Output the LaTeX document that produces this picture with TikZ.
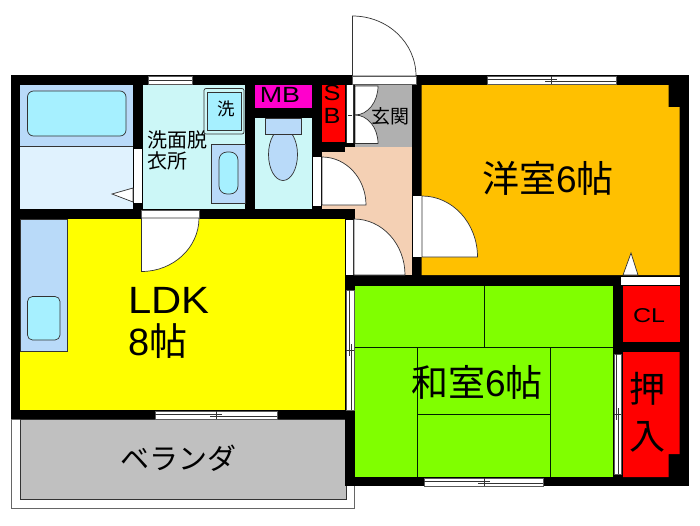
\documentclass[tikz,border=0pt]{standalone}
\usepackage{graphicx}
\usepackage{fontspec}
\setmainfont{Liberation Sans}
\newfontfamily\jp{Noto Sans CJK JP}
\definecolor{lblue}{HTML}{B9DAF9}
\definecolor{pale}{HTML}{E0F2FE}
\definecolor{aqua}{HTML}{A6F0FF}
\definecolor{mint}{HTML}{CCF7F7}
\definecolor{peach}{HTML}{F4D0B4}
\definecolor{orng}{HTML}{FFC000}
\definecolor{tatami}{HTML}{80FF00}
\definecolor{yell}{HTML}{FFFF00}
\definecolor{magen}{HTML}{FF00CC}
\definecolor{gry}{HTML}{C0C0C0}
\definecolor{dgry}{HTML}{B0B0B0}
\definecolor{ln}{HTML}{333333}
\tikzset{
  wall/.style={fill=black,draw=none},
  fixture/.style={draw=ln,line width=.7pt},
  strip/.style={fill=white,draw=gray!70!black,line width=.5pt},
  thin line/.style={draw=ln,line width=.5pt},
  tat/.style={draw=black!70!green!40!black,line width=.7pt},
  label/.style={inner sep=0pt,text=black,align=left},
}
\newcommand{\swing}[4]{%
  \draw[fixture,fill=white] ({#1},{#2+(#4)}) .. controls ({#1+.5523*(#3)},{#2+(#4)}) and ({#1+(#3)},{#2+.5523*(#4)}) .. ({#1+(#3)},{#2}) -- ({#1},{#2}) -- cycle;}
\newcommand{\slider}[5]{% x1 y1 x2 y2 tick, horizontal
  \draw[strip] (#1,#2) rectangle (#3,#4);
  \draw[thin line] (#1,#2*.5+#4*.5-1) -- (#5+6,#2*.5+#4*.5-1);
  \draw[thin line] (#5-6,#2*.5+#4*.5+1) -- (#3,#2*.5+#4*.5+1);
  \draw[thin line] (#5,#2) -- (#5,#4);}
\newcommand{\vslider}[5]{% x1 y1 x2 y2 tick, vertical
  \draw[strip] (#1,#2) rectangle (#3,#4);
  \draw[thin line] (#1*.5+#3*.5-1,#2) -- (#1*.5+#3*.5-1,#5+6);
  \draw[thin line] (#1*.5+#3*.5+1,#5-6) -- (#1*.5+#3*.5+1,#4);
  \draw[thin line] (#1,#5) -- (#3,#5);}
\begin{document}
\begin{tikzpicture}[x=1pt,y=-1pt]
\useasboundingbox (0,0) rectangle (700,525);
\fill[white] (0,0) rectangle (700,525);
% balcony
\draw[draw=gray!80!black,fill=white,line width=.8pt] (11,419) rectangle (354.5,508);
\draw[fixture,fill=gry] (20,419) rectangle (346,499);
% walls
\fill[wall] (11,75) rectangle (689,419);
\fill[wall] (345,75) rectangle (689,486);
% bath
\fill[lblue] (20,85) rectangle (133,146.5);
\fill[pale] (20,146.5) rectangle (133,209);
\draw[fixture] (20,146.5) -- (133,146.5);
\draw[fixture,fill=aqua,rounded corners=6pt] (27.5,91) rectangle (126,136);
\fill[white] (134,149) rectangle (142,203);
\draw[fixture,fill=white] (133,188) -- (112,194) -- (133,202) -- cycle;
% wash room
\fill[mint] (143,85) rectangle (245,209);
\draw[strip] (148.5,76.5) rectangle (192,84);
\draw[thin line] (148.5,80) -- (192,80);
\draw[fixture,fill=mint,rounded corners=2pt] (204,88.5) rectangle (244,134);
\draw[fixture,fill=aqua,line width=1pt] (207,92) rectangle (241,130);
\draw[fixture,fill=lblue] (211,144) rectangle (245,203);
\draw[fixture,fill=aqua,rounded corners=8pt] (219,152) rectangle (238,194);
\node[label,font=\jp\fontsize{17.5}{17.5}\selectfont] (sen) at (226,109) {洗};
\node[label,font=\jp\fontsize{20}{21}\selectfont,anchor=north west] (senmen) at (147.5,130.5) {洗面脱\\[-.5pt]衣所};
% LDK
\fill[yell] (20,219) rectangle (345,410);
\draw[fixture,fill=lblue] (20,219) rectangle (67,351);
\draw[fixture,fill=aqua,rounded corners=5pt] (27.5,296.5) rectangle (60,340);
\draw[strip] (141.5,210) rectangle (199,218);
\swing{141.5}{218}{57.5}{53.5}
\slider{155}{411}{277}{419}{216}
\node[label,anchor=base west] (ldk) at (128,313) {\scalebox{1.1}[1]{\fontsize{38}{38}\selectfont LDK}};
\node[label,anchor=base west] (ldkb) at (128,355) {\fontsize{38}{38}\selectfont 8\jp 帖};
\node[label,font=\jp\fontsize{29}{29}\selectfont] (ber) at (178,458) {ベランダ};
% MB, toilet, SB
\fill[magen] (255,85) rectangle (312,108);
\node[label] (mb) at (280,95) {\scalebox{1.22}[1]{\fontsize{22}{22}\selectfont MB}};
\fill[mint] (255,118) rectangle (312,209);
\draw[fixture,fill=lblue] (283,154.5) ellipse [x radius=14.5,y radius=26];
\draw[fixture,fill=lblue] (265,118) rectangle (301,134);
\fill[red] (322,85) rectangle (345,142);
\node[label] (s) at (332,93) {\scalebox{1.15}[1]{\fontsize{22}{22}\selectfont S}};
\node[label] (b) at (332,116) {\scalebox{1.15}[1]{\fontsize{22}{22}\selectfont B}};
% entrance
\fill[dgry] (355,85) rectangle (412,146.5);
\fill[white] (346,85) rectangle (353,143);
\draw[thin line] (346,85) -- (346,143) (353,85) -- (353,143);
\draw[thin line] (348,115) -- (352,115);
\swing{355}{86}{23}{29}
\swing{355}{143.5}{23}{-28.5}
\node[label,font=\jp\fontsize{19}{19}\selectfont] (gen) at (390,116) {玄関};
\swing{352.5}{76}{63.5}{-60}
\draw[strip] (352.5,76) rectangle (416,84);
% hall
\fill[peach] (345,147) rectangle (412,209);
\fill[peach] (322,152) rectangle (345,209);
\fill[peach] (355,209) rectangle (412,275);
\fill[white] (313,157) rectangle (321,206);
\swing{322}{205}{44}{-48}
\fill[wall] (345,209.5) rectangle (355,219);
\fill[white] (346,219.5) rectangle (353,275);
\draw[thin line] (353,219.5) -- (353,275);
\swing{354}{275}{51}{-56}
% western room
\fill[orng] (421.5,85) -- (668.5,85) -- (668.5,107) -- (679.5,107) -- (679.5,275) -- (421.5,275) -- cycle;
\fill[white] (413,196) rectangle (421.5,257);
\swing{422}{257}{55.5}{-61}
\slider{487}{76}{616}{84}{551}
\draw[fixture,fill=white] (623,275) -- (631,253) -- (638,275) -- cycle;
\draw[strip,draw=none] (621,277) rectangle (679.5,285);
\node[label,anchor=base west] (you) at (482,192) {\jp\fontsize{37}{37}\selectfont 洋室\fontspec{Liberation Sans}6\jp 帖};
% tatami room
\fill[tatami] (355,285.5) rectangle (612.5,477);
\draw[tat] (355,347) -- (612.5,347)
  (484,285.5) -- (484,347)
  (417,347) -- (417,477)
  (550.5,347) -- (550.5,477)
  (417,414) -- (550.5,414);
\slider{424}{478}{543}{486}{484}
\vslider{614}{354}{621}{474}{414}
\vslider{346}{290}{354}{410}{350}
\node[label,anchor=base west] (wa) at (411,396) {\jp\fontsize{37}{37}\selectfont 和室\fontspec{Liberation Sans}6\jp 帖};
% closets
\fill[red] (623,285.5) rectangle (679.5,342);
\node[label] (cl) at (649,316) {\scalebox{1.25}[1]{\fontsize{20}{20}\selectfont CL}};
\fill[red] (623,352) -- (679.5,352) -- (679.5,454) -- (668.5,454) -- (668.5,477) -- (623,477) -- cycle;
\node[label,font=\jp\fontsize{36}{36}\selectfont] (osi) at (647,389) {押};
\node[label,font=\jp\fontsize{36}{36}\selectfont] (iri) at (647,437) {入};
\end{tikzpicture}
\end{document}
